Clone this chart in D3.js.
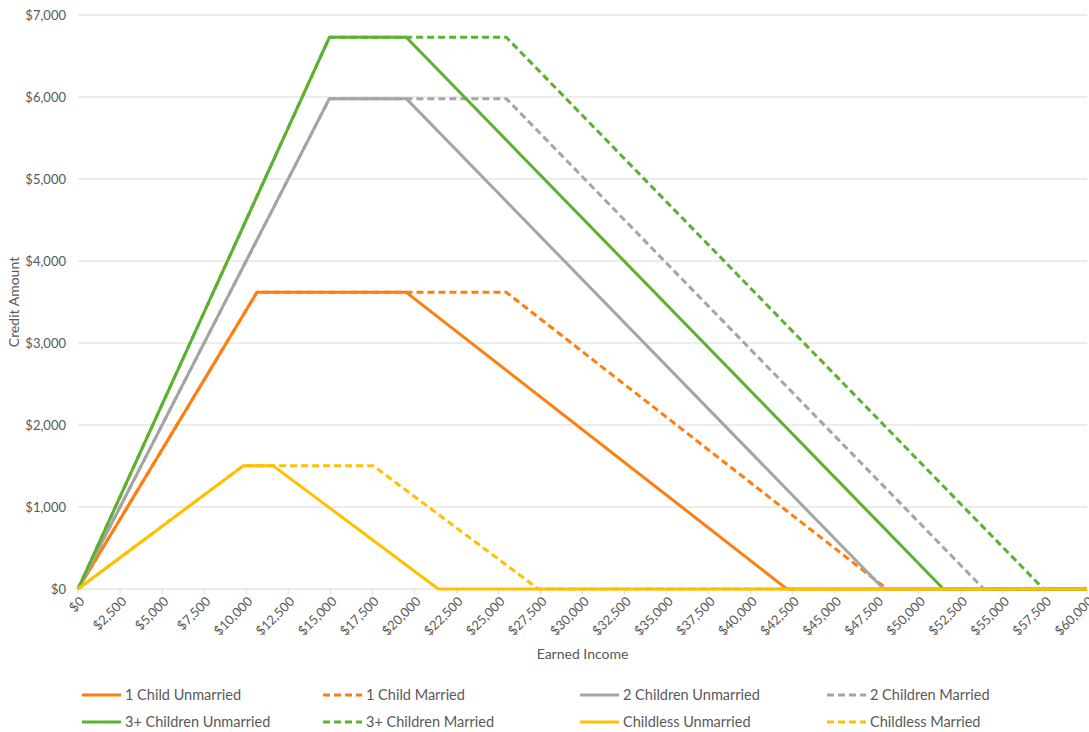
<!DOCTYPE html>
<html>
<head>
<meta charset="utf-8">
<script src="https://cdn.jsdelivr.net/npm/d3@7"></script>
<style>
  body { margin: 0; background: #fff; }
  svg { font-family: Lato, "Open Sans", sans-serif; }
</style>
</head>
<body>
<div id="chart"></div>
<script>
// series names, in legend / drawing order
const seriesNames = [
    '1 Child Unmarried', '1 Child Married',
    '2 Children Unmarried', '2 Children Married',
    '3+ Children Unmarried', '3+ Children Married',
    'Childless Unmarried', 'Childless Married'
];
// breakpoints of each schedule (earned income)
const seriesIncome = [
    [0, 10640, 19520, 42158, 60000],
    [0, 10640, 25470, 48108, 60000],
    [0, 14950, 19520, 47915, 60000],
    [0, 14950, 25470, 53865, 60000],
    [0, 14950, 19520, 51464, 60000],
    [0, 14950, 25470, 57414, 60000],
    [0, 9820, 11610, 21430, 60000],
    [0, 9820, 17560, 27380, 60000]
];
// credit amount at those breakpoints
const seriesCredit = [
    [0, 3618, 3618, 0, 0],
    [0, 3618, 3618, 0, 0],
    [0, 5980, 5980, 0, 0],
    [0, 5980, 5980, 0, 0],
    [0, 6728, 6728, 0, 0],
    [0, 6728, 6728, 0, 0],
    [0, 1502, 1502, 0, 0],
    [0, 1502, 1502, 0, 0]
];
const seriesColors = ['#FF7F0E', '#FF7F0E', '#A5A5A5', '#A5A5A5', '#5CB131', '#5CB131', '#FFC000', '#FFC000'];
const seriesDashed = [false, true, false, true, false, true, false, true];
const xTicks = d3.range(0, 60001, 2500);
const yTicks = d3.range(0, 7001, 1000);

const W = 1089, H = 732;
const margin = {left: 78, right: 2, top: 15, bottom: 143};

const svg = d3.select('#chart').append('svg')
    .attr('width', W)
    .attr('height', H);

const x = d3.scaleLinear().domain([0, 60000]).range([margin.left, W - margin.right]);
const y = d3.scaleLinear().domain([0, 7000]).range([H - margin.bottom, margin.top]);
const fmt = d => '$' + d3.format(',')(d);

// gridlines
svg.append('g')
    .selectAll('line')
    .data(yTicks)
    .enter().append('line')
    .attr('x1', x(0))
    .attr('x2', x(60000))
    .attr('y1', d => y(d))
    .attr('y2', d => y(d))
    .attr('stroke', '#d9d9d9')
    .attr('stroke-width', 1);

// y labels
svg.append('g')
    .selectAll('text')
    .data(yTicks)
    .enter().append('text')
    .attr('x', 66)
    .attr('y', d => y(d))
    .attr('dy', '0.35em')
    .attr('text-anchor', 'end')
    .style('font-size', '13px')
    .style('fill', '#595959')
    .text(fmt);

// x tick marks
svg.append('g')
    .selectAll('line')
    .data(xTicks)
    .enter().append('line')
    .attr('x1', d => x(d))
    .attr('x2', d => x(d))
    .attr('y1', y(0))
    .attr('y2', y(0) + 5)
    .attr('stroke', '#d9d9d9');

// x labels, rotated
svg.append('g')
    .selectAll('text')
    .data(xTicks)
    .enter().append('text')
    .attr('transform', d => `translate(${x(d) + 4}, ${y(0) + 10}) rotate(-45)`)
    .attr('text-anchor', 'end')
    .attr('dy', '0.35em')
    .style('font-size', '13px')
    .style('fill', '#595959')
    .text(fmt);

// axis titles
svg.append('text')
    .attr('x', (x(0) + x(60000)) / 2)
    .attr('y', 659)
    .attr('text-anchor', 'middle')
    .style('font-size', '14px')
    .style('fill', '#595959')
    .text('Earned Income');

svg.append('text')
    .attr('transform', `translate(19, ${(y(0) + y(7000)) / 2}) rotate(-90)`)
    .attr('text-anchor', 'middle')
    .style('font-size', '14px')
    .style('fill', '#595959')
    .text('Credit Amount');

// lines
const line = d3.line()
    .x(d => x(d[0]))
    .y(d => y(d[1]));

seriesNames.forEach((name, i) => {
    const pts = seriesIncome[i].map((v, j) => [v, seriesCredit[i][j]]);
    svg.append('path')
        .datum(pts)
        .attr('d', line)
        .attr('fill', 'none')
        .attr('stroke', seriesColors[i])
        .attr('stroke-width', 3)
        .attr('stroke-linejoin', 'round')
        .attr('stroke-dasharray', seriesDashed[i] ? '7,4' : null);
});

// legend, 4 per row
const legendX = [82, 323, 580, 827];
const legendY = [695, 722];
const legend = svg.append('g')
    .selectAll('g')
    .data(seriesNames)
    .enter().append('g')
    .attr('transform', (d, i) => `translate(${legendX[i % 4]}, ${legendY[Math.floor(i / 4)]})`);

legend.append('line')
    .attr('x1', 0)
    .attr('x2', 39)
    .attr('stroke', (d, i) => seriesColors[i])
    .attr('stroke-width', 3)
    .attr('stroke-dasharray', (d, i) => seriesDashed[i] ? '7,4' : null);

legend.append('text')
    .attr('x', 43)
    .attr('dy', '0.35em')
    .style('font-size', '14.5px')
    .style('fill', '#595959')
    .text(d => d);
</script>
</body>
</html>
